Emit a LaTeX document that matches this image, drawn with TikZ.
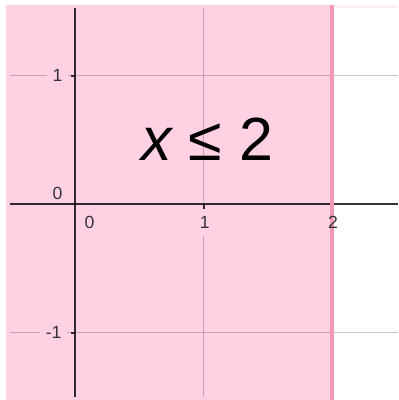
\documentclass[tikz,border=0pt]{standalone}
\usepackage{fontspec}
\setmainfont{Liberation Sans}
\usetikzlibrary{positioning}
\definecolor{regionpink}{HTML}{FFD1E3}
\definecolor{edgepink}{HTML}{F299B6}

\begin{document}
\begin{tikzpicture}[
    x=2cm, y=2cm,
    gridline/.style={black, opacity=0.22, line width=0.6pt},
    axisline/.style={black, opacity=0.8, line width=0.9pt},
    ticklbl/.style={font=\fontsize{7.8}{9}\selectfont, text=black!80, inner xsep=2.5pt, inner ysep=3.2pt},
    boxlbl/.style={ticklbl, fill=regionpink}
]
    \useasboundingbox (-0.584,-1.525) rectangle (2.514,1.588);
    % shaded half plane
    \fill[regionpink] (-0.537,-1.525) rectangle (2,1.549);
    \fill[regionpink!30] (2,1.525) rectangle (2.514,1.549);
    % grid
    \foreach \gy in {-1,1}
        \draw[gridline] (-0.506,\gy) -- (2.514,\gy);
    \foreach \gx in {1,2}
        \draw[gridline] (\gx,1.525) -- (\gx,-1.502);
    % tick labels
    \node[boxlbl] (ytop) at (-0.136,1) {1};
    \node[boxlbl] (ybot) at (-0.167,-1) {-1};
    \node[boxlbl] (yzero) at (-0.136,0.082) {0};
    \node[boxlbl] (xzero) at (0.113,-0.144) {0};
    \node[boxlbl] (xone) at (1.01,-0.144) {1};
    % axes
    \draw[axisline] (-0.506,0) -- (2.514,0);
    \draw[axisline] (0,1.525) -- (0,-1.502);
    \foreach \tx in {1,2}
        \draw[axisline] (\tx,0) -- (\tx,-0.035);
    \foreach \ty in {-1,1}
        \draw[axisline] (0,\ty) -- (-0.035,\ty);
    % boundary x = 2
    \draw[edgepink, line width=1.6pt] (2,1.549) -- (2,-1.525);
    \node[ticklbl] (xtwo) at (2.008,-0.144) {2};
    \node[font=\fontsize{27}{32}\selectfont, anchor=base] (ineq) at (1.03,0.335) {{\itshape x} ≤ 2};
\end{tikzpicture}
\end{document}
